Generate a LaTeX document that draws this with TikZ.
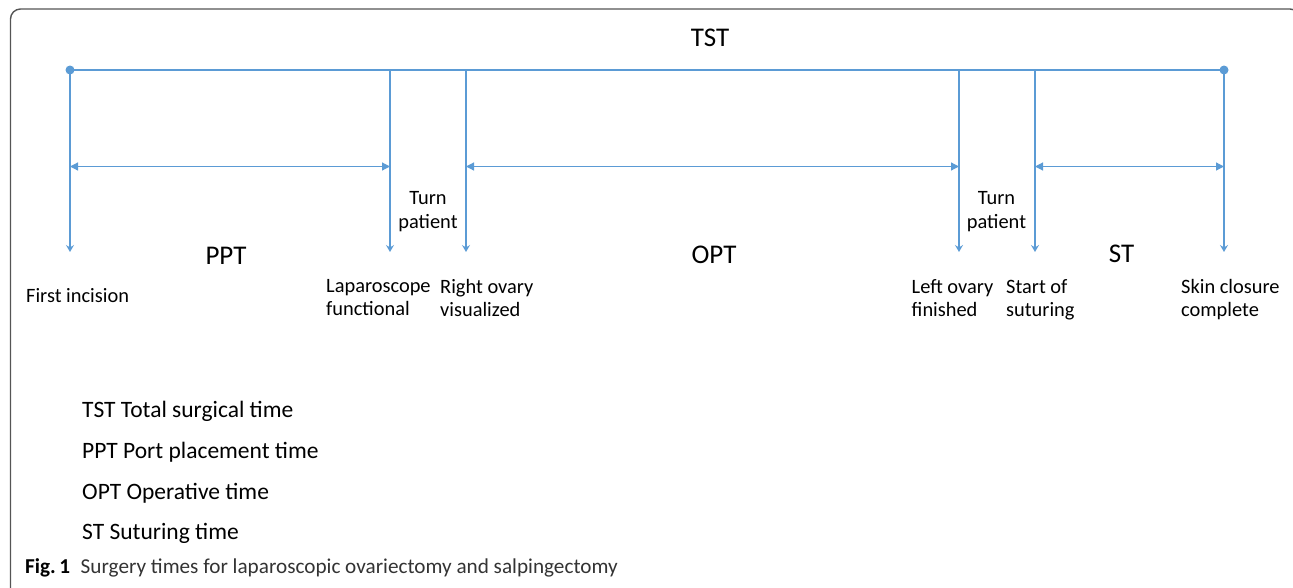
\documentclass[tikz,border=0pt]{standalone}
\usepackage{fontspec}
\setmainfont{Carlito}
\usetikzlibrary{arrows.meta}
\definecolor{lineblue}{HTML}{5B9BD5}
\definecolor{framegray}{HTML}{555555}
\definecolor{capgray}{HTML}{333333}
\tikzset{
  tick/.style={draw=lineblue, line width=1.2pt, -{Stealth[length=7pt,width=8pt,inset=2.5pt]}},
  span/.style={draw=lineblue, line width=1.2pt, {Triangle[length=8pt,width=8pt]}-{Triangle[length=8pt,width=8pt]}},
  axis/.style={draw=lineblue, line width=1.2pt},
  endpt/.style={circle, fill=lineblue, inner sep=0pt, minimum size=9pt},
  evlabel/.style={font=\fontsize{20.4}{23.5}\selectfont, align=left, inner sep=0pt, anchor=north west},
  midlabel/.style={font=\fontsize{20.4}{24}\selectfont, align=center, inner sep=0pt},
  seglabel/.style={font=\fontsize{27}{30}\selectfont, inner sep=0pt},
  legend/.style={font=\fontsize{23.5}{26}\selectfont, inner sep=0pt, anchor=west},
}
\begin{document}
\begin{tikzpicture}[x=1pt,y=-1pt]
\useasboundingbox (0,0) rectangle (1293,587);
% frame
\draw[framegray, line width=1.4pt, rounded corners=10pt] (10.5,9) rectangle (1300,598);
% end points
\node[endpt] (s) at (70,70) {};
\node[endpt] (e) at (1224,70) {};
% top points
\coordinate (t2) at (390,70);
\coordinate (t3) at (466,70);
\coordinate (t4) at (959,70);
\coordinate (t5) at (1035,70);
% bottom points
\coordinate (b1) at (70,252);
\coordinate (b2) at (390,252);
\coordinate (b3) at (466,252);
\coordinate (b4) at (959,252);
\coordinate (b5) at (1035,252);
\coordinate (b6) at (1224,252);
% span points
\coordinate (h1) at (70,166.5);
\coordinate (h2) at (390,166.5);
\coordinate (h3) at (466,166.5);
\coordinate (h4) at (959,166.5);
\coordinate (h5) at (1035,166.5);
\coordinate (h6) at (1224,166.5);
% axis
\draw[axis] (s.center) -- (e.center);
% ticks
\draw[tick] (s.center) -- (b1);
\draw[tick] (t2) -- (b2);
\draw[tick] (t3) -- (b3);
\draw[tick] (t4) -- (b4);
\draw[tick] (t5) -- (b5);
\draw[tick] (e.center) -- (b6);
% spans
\draw[span] (h1) -- (h2);
\draw[span] (h3) -- (h4);
\draw[span] (h5) -- (h6);
% segment labels
\node[seglabel] (tst) at (710,38) {TST};
\node[seglabel] (ppt) at (226,256) {PPT};
\node[seglabel] (opt) at (714,255) {OPT};
\node[seglabel] (st) at (1121.5,254) {ST};
% turn patient
\node[midlabel] (tp1) at (428,212) {Turn\\patient};
\node[midlabel] (tp2) at (996.5,212) {Turn\\patient};
% event labels
\node[evlabel] (l1) at (26,288) {First incision};
\node[evlabel] (l2) at (326,279) {Laparoscope\\functional};
\node[evlabel] (l3) at (440,279) {Right ovary\\visualized};
\node[evlabel] (l4) at (911.5,279) {Left ovary\\finished};
\node[evlabel] (l5) at (1006,279) {Start of\\suturing};
\node[evlabel] (l6) at (1181,279) {Skin closure\\complete};
% legend
\node[legend] (g1) at (82,411) {TST Total surgical time};
\node[legend] (g2) at (82,452) {PPT Port placement time};
\node[legend] (g3) at (82,493) {OPT Operative time};
\node[legend] (g4) at (82,533) {ST Suturing time};
% caption
\node[inner sep=0pt, anchor=west, font=\fontsize{21.2}{24}\selectfont] (cap) at (25,568) {\textbf{Fig.\,1}\hspace{0.5em}\textcolor{capgray}{Surgery times for laparoscopic ovariectomy and salpingectomy}};
\end{tikzpicture}
\end{document}
